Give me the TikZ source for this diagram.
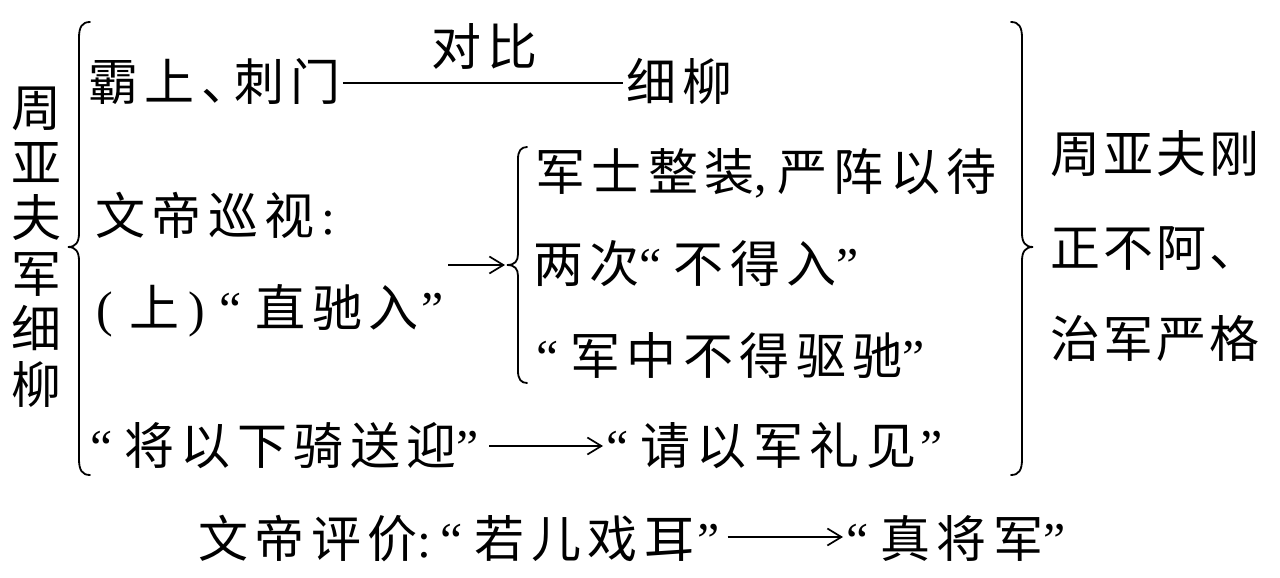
\documentclass[tikz,border=0pt]{standalone}
\usepackage{fontspec}
\setmainfont{Liberation Serif}
\newfontfamily\cjk[LetterSpace=13]{Noto Sans CJK SC}
\newfontfamily\cjkm[LetterSpace=6]{Noto Sans CJK SC}
\newfontfamily\cjkn{Noto Sans CJK SC}
\usetikzlibrary{arrows.meta}
\newcommand\oq{{\rmfamily “}\hspace{12pt}}
\newcommand\cq{{\rmfamily ”}}
\begin{document}
\begin{tikzpicture}[x=1pt,y=-1pt,
  txt/.style={anchor=base west,inner sep=0pt,font=\fontsize{50}{60}\selectfont\cjk},
  txtm/.style={anchor=base west,inner sep=0pt,font=\fontsize{50}{60}\selectfont\cjkm},
  vch/.style={anchor=base,inner sep=0pt,font=\fontsize{50}{60}\selectfont\cjkn},
  bracepath/.style={line width=1.8pt,line cap=round},
  plain/.style={line width=1.6pt},
  arr/.style={line width=1.7pt,-{Straight Barb[length=14pt,width=17pt,line width=1.7pt]}}]
\useasboundingbox (0,0) rectangle (1280,578);

% left vertical title
\foreach \c [count=\i] in {周,亚,夫,军,细,柳}
  \node[vch] (v\i) at (36,{126+55.4*(\i-1)}) {\c};

% braces
\draw[bracepath] (90,22) .. controls (82,22) and (79,27) .. (79,38) -- (79,233)
  .. controls (79,242) and (76,247) .. (68,247)
  .. controls (76,247) and (79,252) .. (79,261) -- (79,459)
  .. controls (79,470) and (82,475) .. (90,475);
\draw[bracepath] (527,147) .. controls (521,147) and (518,151) .. (518,159) -- (518,254)
  .. controls (518,261) and (515,265) .. (507,265)
  .. controls (515,265) and (518,269) .. (518,276) -- (518,371)
  .. controls (518,379) and (521,383) .. (527,383);
\draw[bracepath] (1011,22) .. controls (1019,22) and (1022,27) .. (1022,38) -- (1022,233)
  .. controls (1022,242) and (1025,247) .. (1033,247)
  .. controls (1025,247) and (1022,252) .. (1022,261) -- (1022,459)
  .. controls (1022,470) and (1019,475) .. (1011,475);
\coordinate (ibtip) at (505,265);

% row 1
\node[txt] (r1a) at (88,100) {霸上、\hspace{-17pt}刺门};
\node[txt] (r1b) at (626,100) {细柳};
\node[txt] (db) at (431,66) {对比};
\draw[plain,shorten <=2pt,shorten >=3pt] ([yshift=17pt]r1a.base east) -- ([yshift=17pt]r1b.base west);

% rows 2-3
\node[txt] (r2) at (95,234) {文帝巡视{\rmfamily\hspace{7pt}:}};
\node[txt] (r3) at (96,326) {{\rmfamily (}\hspace{17pt}上\hspace{9pt}{\rmfamily )}\hspace{14pt}{\rmfamily “}\hspace{14pt}直驰入\hspace{3pt}\cq};
\coordinate (ars) at (448,265);
\draw[arr] (ars) -- (ibtip);

% inner column
\node[txt] (m1) at (535,190) {军士整装{\rmfamily ,}\hspace{10pt}严阵以待};
\node[txt] (m2) at (533,282) {两次\oq 不得入\cq};
\node[txt] (m3) at (536,374) {\oq 军中不得驱驰\cq};

% row 5
\node[txt] (s1) at (90,464) {\oq 将以下骑送迎\cq};
\node[txt] (s2) at (606,464) {\oq 请以军礼见\hspace{4pt}\cq};
\draw[arr,shorten <=10pt,shorten >=3pt] ([yshift=18pt]s1.base east) -- ([yshift=18pt]s2.base west);

% right column
\node[txtm] (z1) at (1050,172) {周亚夫刚};
\node[txtm] (z2) at (1050,266) {正不阿、};
\node[txtm] (z3) at (1050,357) {治军严格};

% bottom
\node[txt] (b1) at (198,557) {文帝评价{\rmfamily :}\hspace{9pt}\oq 若儿戏耳\hspace{3pt}\cq};
\node[txt] (b2) at (846,557) {\oq 真将军\cq};
\draw[arr,shorten <=8pt,shorten >=3pt] ([yshift=20pt]b1.base east) -- ([yshift=20pt]b2.base west);
\end{tikzpicture}
\end{document}
